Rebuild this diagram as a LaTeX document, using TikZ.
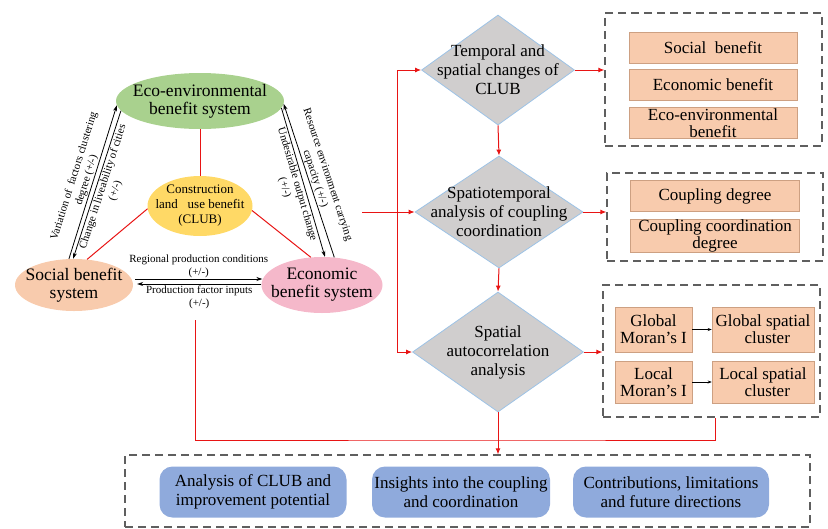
\documentclass[tikz,border=0pt]{standalone}
\usepackage{fontspec}
\setmainfont{Liberation Serif}
\usetikzlibrary{shapes.geometric,arrows.meta,calc}

\definecolor{ecogreen}{RGB}{169,209,142}
\definecolor{clubyellow}{RGB}{255,217,102}
\definecolor{socpeach}{RGB}{248,203,173}
\definecolor{econpink}{RGB}{245,184,202}
\definecolor{diamgray}{RGB}{208,206,206}
\definecolor{diamblue}{RGB}{157,195,230}
\definecolor{itemfill}{RGB}{248,203,173}
\definecolor{itemline}{RGB}{205,160,130}
\definecolor{outblue}{RGB}{143,170,220}
\definecolor{linered}{RGB}{232,20,20}
\definecolor{dashgray}{RGB}{95,95,95}

\tikzset{
	sysnode/.style={ellipse, inner sep=0pt},
	systext/.style={align=center, font=\fontsize{17.5}{18}\selectfont},
	clubtext/.style={align=center, font=\fontsize{13}{15}\selectfont},
	link/.style={draw=linered, line width=1pt},
	flow/.style={link, -{Latex[length=6pt,width=5pt]}},
	pair/.style={draw=black, line width=0.8pt, -{Stealth[length=6pt,width=4pt]}},
	lbl/.style={font=\fontsize{11}{13}\selectfont, align=center, inner sep=1pt},
	diam/.style={diamond, fill=diamgray, draw=diamblue, line width=0.8pt, inner sep=0pt},
	dtext/.style={align=center, font=\fontsize{17}{19}\selectfont},
	item/.style={rectangle, fill=itemfill, draw=itemline, line width=0.6pt,
		align=center, inner sep=0pt, font=\fontsize{17}{17}\selectfont},
	group/.style={rectangle, draw=dashgray, dash pattern=on 8pt off 5pt, line width=1.2pt},
	outcome/.style={rectangle, rounded corners=13pt, fill=outblue, align=center,
		inner sep=0pt, font=\fontsize{17}{19}\selectfont},
}

\begin{document}
\begin{tikzpicture}[x=1pt, y=-1pt]
	\useasboundingbox (0,0) rectangle (828,528);

	% the three benefit systems around CLUB
	\node[sysnode, fill=ecogreen, minimum width=168, minimum height=56,
		label={[systext]center:Eco-environmental\\benefit system}] (eco) at (200,101) {};
	\node[sysnode, fill=clubyellow, minimum width=105, minimum height=60,
		label={[clubtext]center:Construction\\land\ \ \ use benefit\\(CLUB)}] (club) at (200,206) {};
	\node[sysnode, fill=socpeach, minimum width=118, minimum height=52,
		label={[systext]center:Social benefit\\system}] (soc) at (74,285) {};
	\node[sysnode, fill=econpink, minimum width=121, minimum height=56,
		label={[systext]center:Economic\\benefit system}] (econ) at (322,285) {};

	\draw[link] (eco.south) -- (club.north);
	\draw[link] (club.183) -- (soc.63);
	\draw[link] (club.355) -- (econ.112);

	% interactions between the systems
	\draw[pair] (soc.101) -- node[lbl, sloped, above] {Variation of\ \ factors clustering\\degree (+/-)} (eco.183);
	\draw[pair] (eco.187) -- node[lbl, sloped, below] {Change in liveability of cities\\(+/-)} (soc.92);
	\draw[pair] (eco.355) -- node[lbl, sloped, below] {Undesirable output change\\(+/-)} (econ.84);
	\draw[pair] (econ.66) -- node[lbl, sloped, above] {Resource environment carrying\\capacity (+/-)} (eco.358);
	\draw[pair] ($(soc.east)+(2,-6)$) -- node[lbl, above] {Regional production conditions\\(+/-)} ($(econ.west)+(1,-6)$);
	\draw[pair] ($(econ.west)+(0,-1)$) -- node[lbl, below] {Production factor inputs\\(+/-)} ($(soc.east)+(4,-1)$);

	% analysis steps
	\node[diam, minimum width=153, minimum height=110,
		label={[dtext]center:Temporal and\\spatial changes of\\CLUB}] (d1) at (498,70) {};
	\node[diam, minimum width=168, minimum height=112,
		label={[dtext]center:Spatiotemporal\\analysis of coupling\\coordination}] (d2) at (499,212) {};
	\node[diam, minimum width=171, minimum height=120,
		label={[dtext]center:Spatial\\autocorrelation\\analysis}] (d3) at (498,352) {};

	\coordinate (sys) at (362,212);
	\coordinate (spine) at (397,212);
	\draw[flow] (sys) -- (d2.west);
	\draw[flow] (spine) |- (d1.west);
	\draw[flow] (spine) |- (d3.west);
	\draw[flow] (d1.south) -- (d2.north);
	\draw[flow] (d2.south) -- (d3.north);

	% result groups
	\node[group, minimum width=217, minimum height=133] (box1) at (713.5,79.5) {};
	\node[item, minimum width=168, minimum height=31] (social) at (713,48) {Social\ \ benefit};
	\node[item, minimum width=168, minimum height=31] (economic) at (713,85) {Economic benefit};
	\node[item, minimum width=168, minimum height=31] (ecoenv) at (713,123) {Eco-environmental\\benefit};

	\node[group, minimum width=216, minimum height=88] (box2) at (715,217) {};
	\node[item, minimum width=169, minimum height=31] (cd) at (715,196) {Coupling degree};
	\node[item, minimum width=169, minimum height=32] (ccd) at (715,236) {Coupling coordination\\degree};

	\node[group, minimum width=217, minimum height=132] (box3) at (711.5,351) {};
	\node[item, minimum width=77, minimum height=45] (gm) at (653.5,329.5) {Global\\Moran's I};
	\node[item, minimum width=102, minimum height=45] (gs) at (763,329.5) {Global spatial\\\ \ cluster};
	\node[item, minimum width=77, minimum height=42] (lm) at (653.5,382) {Local\\Moran's I};
	\node[item, minimum width=102, minimum height=42] (ls) at (763,382) {Local spatial\\\ \ cluster};
	\draw[-{Stealth[length=4pt,width=3pt]}, line width=0.5pt] (gm) -- (gs);
	\draw[-{Stealth[length=4pt,width=3pt]}, line width=0.5pt] (lm) -- (ls);

	\draw[flow] (d1.east) -- (box1.west |- d1.east);
	\draw[flow] (d2.east) -- (box2.west |- d2.east);
	\draw[flow] (d3.east) -- (box3.west |- d3.east);

	% conclusions
	\node[group, minimum width=685, minimum height=72] (outer) at (467.5,491) {};
	\node[outcome, minimum width=187, minimum height=51] (o1) at (253,492) {Analysis of CLUB and\\improvement potential};
	\node[outcome, minimum width=178, minimum height=51] (o2) at (461,492) {Insights into the coupling\\and coordination};
	\node[outcome, minimum width=196, minimum height=51] (o3) at (671,492) {Contributions, limitations\\and future directions};

	\coordinate (fb) at (195,320);
	\coordinate (bus) at (498,440);
	\draw[link] (fb) |- (bus) -| ($(box3.south)+(4,0)$);
	\draw[flow] (d3.south) -- (d3.south |- outer.north);
\end{tikzpicture}
\end{document}
